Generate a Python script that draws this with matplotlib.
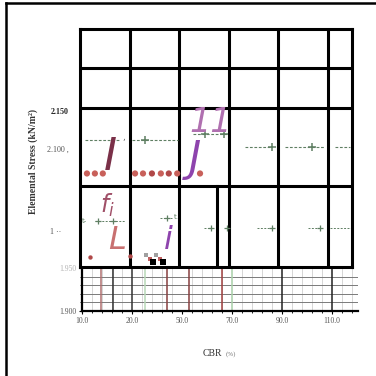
import matplotlib
matplotlib.use("Agg")
import matplotlib.pyplot as plt
import numpy as np
from matplotlib.lines import Line2D

nan = np.nan

# --- grid of the table (CBR %, stress kN/m²) ---
cbr_dividers = [20, 30, 40, 50, 60]
stress_dividers = [2.207, 2.154, 2.051]
split_cbr = 37.6

# upper dashed trace
upper_cbr = [11.0, 18.1, nan, 20.5, 29.8, nan, 32.8, 39.6, nan, 43.3, 48.7, nan, 51.3, 59.4, nan, 61.4, 64.4]
upper_stress = [2.112, 2.112, nan, 2.112, 2.112, nan, 2.120, 2.120, nan, 2.103, 2.103, nan, 2.103, 2.103, nan, 2.103, 2.103]
upper_mark_cbr = [23.1, 35.2, 39.0, 48.7, 56.8]
upper_mark_stress = [2.112, 2.120, 2.120, 2.103, 2.103]

# lower dashed trace
lower_cbr = [13.0, 19.1, nan, 26.1, 28.5, nan, 35.0, 36.6, nan, 45.7, 48.7, nan, 56.0, 58.4, nan, 60.4, 64.8]
lower_stress = [2.005, 2.005, nan, 2.009, 2.009, nan, 1.996, 1.996, nan, 1.996, 1.996, nan, 1.996, 1.996, nan, 1.996, 1.996]
lower_mark_cbr = [13.6, 16.7, 27.5, 36.4, 39.6, 48.7, 58.4]
lower_mark_stress = [2.005, 2.005, 2.009, 1.996, 1.996, 1.996, 1.996]

# dotted samples
dot_cbr = [11.4, 13.0, 14.6, 21.1, 22.7, 24.5, 26.3, 27.9, 29.6, 34.2]
dot_stress = [2.068] * 10
dot_colors = ["#c8605a", "#c8605a", "#c8605a", "#c8605a", "#c8605a",
              "#b04848", "#c8605a", "#b04848", "#c8605a", "#c8605a"]

low_dot_cbr = [12.0, 20.1]
low_dot_stress = [1.958, 1.960]
grey_sq_cbr = [23.3, 25.3]
grey_sq_stress = [1.9605, 1.9605]
red_sq_cbr = [24.1, 26.1]
red_sq_stress = [1.955, 1.955]
black_sq_cbr = [24.7, 26.7]
black_sq_stress = [1.951, 1.951]

# glyph annotations
glyph_text = ["I", "J", "11", "$f_i$", "L", "i"]
glyph_cbr = [16.05, 33.2, 36.4, 15.6, 17.5, 27.9]
glyph_stress = [2.0895, 2.087, 2.1355, 2.026, 1.980, 1.980]
glyph_colors = ["#7a3048", "#8e44ad", "#b070b0", "#a05068", "#c87070", "#8e44ad"]
glyph_sizes = [32, 30, 24, 17, 23, 23]

# table y ticks
table_yticks = [2.150, 2.100, 1.992]
table_yticklabels = ["2.150", "2.100 ,", "1 ··    "]

# strip below
strip_xticks = [10, 20, 30, 40, 50, 60]
strip_xticklabels = ["10.0", "20.0", "50.0", "70.0", "90.0", "110.0"]
strip_yticks = [1.900, 1.950]
strip_yticklabels = ["1.900", "1.950"]
strip_vlines = [13.8, 16.2, 20.0, 22.6, 27.0, 31.4, 38.0, 40.0, 50.0, 60.0]
strip_vcolors = ["#b07070", "#333333", "#333333", "#b8d8b8", "#884040",
                 "#884040", "#a04040", "#a8d0a8", "#222222", "#222222"]

W = 376
fig = plt.figure(figsize=(3.76, 3.76), dpi=100)


def fx(px):
    return px / W


def fy(py):
    return 1 - py / W


# outer frame on left and top
fig.add_artist(Line2D([fx(6), fx(6)], [fy(3), 0], color="black", lw=1.8))
fig.add_artist(Line2D([fx(6), 1], [fy(3), fy(3)], color="black", lw=1.8))

# --- lower strip ---
sx = fig.add_axes([fx(82), fy(311), 276 / W, 43 / W])
sx.set_xlim(10, 65.2)
sx.set_ylim(1.9, 1.95)
sx.set_xticks(np.arange(10, 66, 2), minor=True)
sx.set_yticks(np.arange(1.9, 1.951, 0.01), minor=True)
sx.grid(which="minor", axis="x", color="#d0d0d0", lw=0.6)
sx.grid(which="minor", axis="y", color="#7a7a7a", lw=0.7)
for v, c in zip(strip_vlines, strip_vcolors):
    sx.axvline(v, color=c, lw=1.1)
sx.set_xticks(strip_xticks)
sx.set_xticklabels(strip_xticklabels)
sx.set_yticks(strip_yticks)
sx.set_yticklabels(strip_yticklabels)
for s in ["top", "right"]:
    sx.spines[s].set_visible(False)
for s in ["left", "bottom"]:
    sx.spines[s].set_linewidth(1.6)
sx.tick_params(axis="both", which="major", length=2, labelsize=5.5,
               labelcolor="#555555", pad=2)
sx.tick_params(axis="both", which="minor", length=1.5)
for lab in sx.get_xticklabels() + sx.get_yticklabels():
    lab.set_family("Liberation Serif")
sx.get_yticklabels()[1].set_alpha(0.45)

# --- table ---
ax = fig.add_axes([fx(80), fy(267), 272 / W, 238 / W])
ax.set_zorder(3)
ax.set_facecolor("white")
ax.set_xlim(10, 64.84)
ax.set_ylim(1.945, 2.258)
for s in ax.spines.values():
    s.set_linewidth(2.2)
for c in cbr_dividers:
    ax.axvline(c, color="black", lw=2.2)
for r in stress_dividers:
    ax.axhline(r, color="black", lw=2.2)
ax.plot([split_cbr, split_cbr], [1.945, stress_dividers[-1]], color="black", lw=2.2)

green = "#5f7f63"
ax.plot(upper_cbr, upper_stress, color=green, lw=0.8, ls=(0, (2.5, 1.5)))
ax.plot(upper_mark_cbr, upper_mark_stress, ls="none", marker="+", ms=6, mew=1.1, color=green)
ax.plot(lower_cbr, lower_stress, color=green, lw=0.7, ls=(0, (2.0, 1.5)))
ax.plot(lower_mark_cbr, lower_mark_stress, ls="none", marker="+", ms=5, mew=0.9, color=green)

ax.scatter(dot_cbr, dot_stress, s=20, c=dot_colors, zorder=4, linewidths=0)
ax.scatter(low_dot_cbr, low_dot_stress, s=10, c="#b04848", zorder=4, linewidths=0)
ax.scatter(grey_sq_cbr, grey_sq_stress, s=10, marker="s", c="#a0a0a0", zorder=4, linewidths=0)
ax.scatter(red_sq_cbr, red_sq_stress, s=10, marker="s", c="#c06060", zorder=4, linewidths=0)
ax.scatter(black_sq_cbr, black_sq_stress, s=13, marker="s", c="black", zorder=5, linewidths=0)

for t, x, y, c, fs in zip(glyph_text, glyph_cbr, glyph_stress, glyph_colors, glyph_sizes):
    ax.text(x, y, t, color=c, fontsize=fs, style="italic", ha="center",
            va="center", family="DejaVu Sans", zorder=6)
ax.text(18.8, 2.115, ",", color="#555555", fontsize=6, ha="center", va="center")
ax.text(10.3, 2.006, "t-", color=green, fontsize=5, ha="left", va="center")
ax.text(29.5, 2.011, "t.", color=green, fontsize=5, ha="center", va="center")

ax.set_xticks([])
ax.set_yticks(table_yticks)
ax.set_yticklabels(table_yticklabels)
ax.tick_params(axis="y", length=0, pad=8, labelsize=5.8, labelcolor="#555555")
for lab in ax.get_yticklabels():
    lab.set_family("Liberation Serif")
ax.get_yticklabels()[0].set_color("#222222")
ax.get_yticklabels()[0].set_fontweight("bold")

# axis titles
fig.text(fx(33), fy(162), "Elemental Stress (kN/m²)", rotation=90, ha="center",
         va="center", fontsize=7, fontweight="bold", family="Liberation Serif",
         color="#333333")
fig.text(fx(222), fy(353), "CBR", ha="right", va="center", fontsize=7,
         family="Liberation Serif", color="#333333")
fig.text(fx(226), fy(354), "(%)", ha="left", va="center", fontsize=5,
         family="Liberation Serif", color="#777777")

fig.savefig("out.png", dpi=100)
